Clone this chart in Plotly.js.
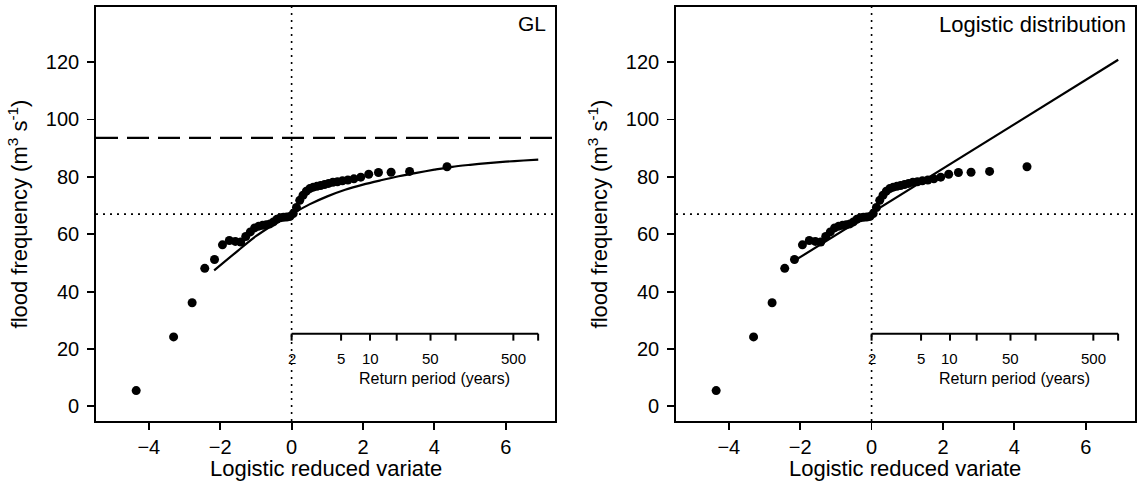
<!DOCTYPE html>
<html><head><meta charset="utf-8">
<script src="https://cdn.plot.ly/plotly-3.0.1.min.js"></script>
<style>html,body{margin:0;padding:0;background:#fff}#chart{width:1142px;height:487px}</style>
</head><body><div id="chart"></div>
<script>
// Annual maximum flood series (logistic plotting positions)
const reducedVariate = [-4.354,-3.306,-2.787,-2.433,-2.160,-1.937,-1.745,-1.576,-1.424,-1.285,-1.156,-1.036,-0.921,-0.813,-0.708,-0.607,-0.509,-0.414,-0.320,-0.228,-0.136,-0.045,
  0.045,0.136,0.228,0.320,0.414,0.509,0.607,0.708,0.813,0.921,1.036,1.156,1.285,1.424,1.576,1.745,1.937,2.160,2.433,2.787,3.306,4.354];
const floodPeaks = [5.5,24.2,36.1,48.1,51.2,56.3,57.8,57.5,57.3,59.2,60.8,62.2,62.8,63.1,63.3,63.6,64.3,65.2,65.7,65.9,66.0,66.2,
  67.2,69.3,71.8,73.6,75.0,75.9,76.4,76.7,77.0,77.3,77.7,78.1,78.3,78.6,78.9,79.3,79.9,80.9,81.5,81.6,81.9,83.5];
// Fitted GL quantile curve (read)
const glCurveX = [-2.17,-1.5,-1.0,-0.5,0,0.5,1.0,1.5,2.0,2.5,3.0,3.5,4.0,4.5,5.0,5.5,6.0,6.5,6.91];
const glCurveY = [47.4,54.3,59.3,63.4,67.0,70.4,73.2,75.5,77.3,78.8,80.2,81.4,82.5,83.5,84.2,84.8,85.3,85.7,86.0];
// Fitted logistic distribution line (read)
const logisticLineX = [-2.17,6.91];
const logisticLineY = [50.7,120.8];
const locationLevel = 67.0;
const glUpperBound = 93.6;
// Secondary return period scale
const returnPeriods = [2,5,10,20,50,100,500,1000];
const returnPeriodLabels = ['2','5','10','','50','','500',''];
const xTicks = [-4,-2,0,2,4,6];
const yTicks = [0,20,40,60,80,100,120];
const panelLabels = ['GL','Logistic distribution'];
const xTitle = 'Logistic reduced variate';
const yTitle = 'flood frequency (m<sup>3</sup> s<sup>-1</sup>)';

const FONT = 'Liberation Sans, Arial, Helvetica, sans-serif';
const xRange = [-5.48,7.38], yRange = [-5.1,139.2];
const innerAxisPos = 0.211, innerTickLen = 7/414;

function xAx(domain, anchor){
  return {domain, anchor, range:xRange, tickvals:xTicks, ticks:'outside', ticklen:7, tickwidth:1.8, tickcolor:'#000',
    showline:true, mirror:true, linewidth:1.8, linecolor:'#000', showgrid:false, zeroline:false,
    tickfont:{size:20,color:'#000'}, ticklabelstandoff:0};
}
function yAx(anchor){
  return {domain:[0,1], anchor, range:yRange, tickvals:yTicks, ticks:'outside', ticklen:7, tickwidth:1.8, tickcolor:'#000',
    showline:true, mirror:true, linewidth:1.8, linecolor:'#000', showgrid:false, zeroline:false,
    tickfont:{size:20,color:'#000'}, ticklabelstandoff:4,
    title:{text:yTitle, font:{size:22,color:'#000'}, standoff:12}};
}

const traces = [];
const shapes = [];
const annotations = [];
['x','x2'].forEach((xa, k) => {
  const ya = k === 0 ? 'y' : 'y2';
  traces.push({type:'scatter', mode:'markers', x:reducedVariate, y:floodPeaks, xaxis:xa, yaxis:ya,
    marker:{color:'#000', size:9}, showlegend:false, hoverinfo:'x+y'});
  if (k === 0) {
    traces.push({type:'scatter', mode:'lines', x:glCurveX, y:glCurveY, xaxis:xa, yaxis:ya,
      line:{color:'#000', width:2.2, shape:'spline', smoothing:0.8}, showlegend:false});
  } else {
    traces.push({type:'scatter', mode:'lines', x:logisticLineX, y:logisticLineY, xaxis:xa, yaxis:ya,
      line:{color:'#000', width:2.2}, showlegend:false});
  }
  const yd = ya + ' domain', xd = xa + ' domain';
  shapes.push({type:'line', xref:xa, yref:yd, x0:0, x1:0, y0:0, y1:1, line:{color:'#000', width:1.6, dash:'2px,5px'}});
  shapes.push({type:'line', xref:xd, yref:ya, x0:0, x1:1, y0:locationLevel, y1:locationLevel, line:{color:'#000', width:1.6, dash:'2px,5px'}});
  if (k === 0) {
    shapes.push({type:'line', xref:xd, yref:ya, x0:0, x1:1, y0:glUpperBound, y1:glUpperBound, line:{color:'#000', width:2.2, dash:'22px,9px'}});
  }
  // inner return period axis
  const tv = returnPeriods.map(T => Math.log(T - 1));
  shapes.push({type:'line', xref:xa, yref:yd, x0:tv[0], x1:tv[tv.length-1], y0:innerAxisPos, y1:innerAxisPos, line:{color:'#000', width:2}});
  tv.forEach((v, j) => {
    shapes.push({type:'line', xref:xa, yref:yd, x0:v, x1:v, y0:innerAxisPos, y1:innerAxisPos - innerTickLen, line:{color:'#000', width:2}});
    if (returnPeriodLabels[j]) annotations.push({xref:xa, yref:yd, x:v, y:innerAxisPos, yanchor:'middle', xanchor:'center', yshift:-25,
      text:returnPeriodLabels[j], showarrow:false, borderpad:0, font:{size:15, color:'#000', family:FONT}});
  });
  annotations.push({xref:xa, yref:yd, x:4.0, y:innerAxisPos, yanchor:'middle', xanchor:'center', yshift:-45,
    text:'Return period (years)', showarrow:false, borderpad:0, font:{size:16, color:'#000', family:FONT}});
  annotations.push({xref:xd, yref:yd, x:1, y:1, xanchor:'right', yanchor:'top', xshift:-7, yshift:-3,
    text:panelLabels[k], showarrow:false, font:{size:k===0?21:22, color:'#000', family:FONT}});
  // x axis title
  annotations.push({xref:xd, yref:yd, x:0.5, y:0, xanchor:'center', yanchor:'top', yshift:-34,
    text:xTitle, showarrow:false, borderpad:0, font:{size:22, color:'#000', family:FONT}});
});

const layout = {
  width:1142, height:487, paper_bgcolor:'#fff', plot_bgcolor:'#fff',
  margin:{l:96, r:7, t:7, b:66, pad:0},
  font:{family:FONT, color:'#000'},
  xaxis:xAx([0,0.4418],'y'), yaxis:yAx('x'),
  xaxis2:xAx([0.5582,1],'y2'), yaxis2:yAx('x2'),
  shapes, annotations, showlegend:false
};
Plotly.newPlot('chart', traces, layout, {displayModeBar:false, staticPlot:true});
</script></body></html>
